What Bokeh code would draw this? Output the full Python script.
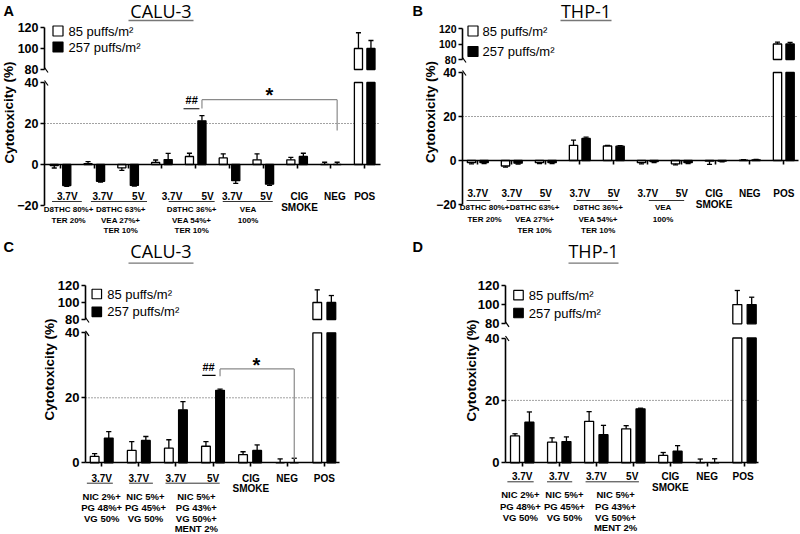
from bokeh.plotting import figure
from bokeh.models import Range1d, LinearAxis, FixedTicker, ColumnDataSource
from bokeh.layouts import row, column
from bokeh.core.properties import value
from bokeh.embed import file_html
from bokeh.resources import INLINE

# ---------------- data (cytotoxicity %, mean and error) ----------------
A_white = [-0.5, 0.4, -1.6, 1.0, 3.9, 3.2, 2.3, 2.3, 0.0, 100]
A_white_err = [1.2, 1.0, 1.3, 1.2, 1.6, 2.0, 2.9, 1.2, 1.1, 15]
A_black = [-10.3, -8.2, -10.2, 2.4, 21.3, -7.9, -9.6, 3.9, 0.0, 100]
A_black_err = [0.3, 0.4, 0.3, 3.0, 2.5, 1.3, 0.6, 1.6, 1.1, 7.6]

B_white = [-1.0, -2.5, -1.0, 6.9, 6.6, -1.0, -1.5, -0.3, 0.2, 100]
B_white_err = [0.5, 0.5, 0.4, 2.4, 0.3, 0.5, 0.5, 1.5, 0.2, 2.5]
B_black = [-1.0, -1.2, -1.0, 10.0, 6.5, -0.5, -1.0, -0.3, 0.3, 100]
B_black_err = [0.4, 0.4, 0.4, 0.6, 0.3, 0.4, 0.4, 0.3, 0.2, 2.2]

C_white = [1.95, 3.8, 4.5, 5.1, 2.5, 0.0, 100]
C_white_err = [0.85, 2.7, 2.6, 1.4, 0.9, 1.2, 14.9]
C_black = [7.6, 6.9, 16.3, 22.3, 3.8, 0.0, 100]
C_black_err = [2.0, 1.2, 2.5, 0.4, 1.7, 1.4, 8.2]

D_white = [8.6, 6.6, 13.3, 10.9, 2.35, 0.0, 100]
D_white_err = [0.7, 1.4, 3.1, 1.0, 0.95, 1.2, 14.7]
D_black = [13.0, 6.8, 9.0, 17.3, 3.7, 0.0, 100]
D_black_err = [3.3, 1.5, 3.0, 0.2, 1.8, 1.3, 7.7]

# ---------------- text ----------------
legend_labels = ["85 puffs/m\u00b2", "257 puffs/m\u00b2"]
ylabel = "Cytotoxicity (%)"
AB_volt = ["3.7V", "3.7V", "5V", "3.7V", "5V", "3.7V", "5V"]
AB_comp = [["D8THC 80%+", "TER 20%"],
           ["D8THC 63%+", "VEA 27%+", "TER 10%"],
           ["D8THC 36%+", "VEA 54%+", "TER 10%"],
           ["VEA", "100%"]]
CD_volt = ["3.7V", "3.7V", "3.7V", "5V"]
CD_comp = [["NIC 2%+", "PG 48%+", "VG 50%"],
           ["NIC 5%+", "PG 45%+", "VG 50%"],
           ["NIC 5%+", "PG 43%+", "VG 50%+", "MENT 2%"]]
ctrl_labels = ["CIG", "NEG", "POS"]
smoke_label = "SMOKE"
top_ticks = [80, 100, 120]

FONT = "Liberation Sans"

# ---------------- layout (page pixel geometry) ----------------
cfgA = dict(L=0, R=400, T=0, B=240, x0p=60, s=33.8, ax=44, xend=380, y0=164, kl=2.05,
            y80=69, kt=1.05, low_ticks=[-20, 0, 20, 40], dodge=0.185, bw=0.24, cap=0.075,
            volt=AB_volt, volt_x=[0.2, 1.25, 2.3, 3.3, 4.35, 5.08, 6.09], volt_py=195.7,
            ul=[(-0.25, 0.63), (0.9, 2.56), (3.2, 4.56), (4.8, 6.28)], ul_py=201,
            comp=AB_comp, comp_x=[0.24, 1.78, 3.88, 5.55], comp_py=[209.3, 220, 230],
            comp_size="8px",
            ctrl_x=[7.07, 8.12, 9.0], ctrl_py=195.7, smoke_py=206.7,
            title="CALU-3", title_px=160.5, title_py=10, title_ul=(128, 193, 20),
            letter="A", letter_px=3, letter_py=10, ylab_px=8.5, ylab_py=112,
            leg_sq_px=57.5, leg_tx_px=68, leg_py=[30.5, 46.5], leg_sq=10,
            tick_top="12.5px", tick_low="12.5px",
            sig=dict(xl=4.185, xr=8.185, yh=31.6, yle=27.3, yre=16.6, star=(6.18, 33.7),
                     hash=(3.88, 31.7), hul=(3.64, 4.11, 27.2)))

cfgB = dict(L=400, R=800, T=0, B=240, x0p=477.3, s=34, ax=462, xend=798, y0=160, kl=2.2,
            y80=59, kt=0.775, low_ticks=[-20, 0, 20, 40], dodge=0.185, bw=0.245, cap=0.075,
            volt=AB_volt, volt_x=[0, 1, 2, 3, 4, 5, 6], volt_py=192.7,
            ul=[(-0.33, 0.37), (0.85, 2.13), (2.9, 4.12), (5.03, 6.07)], ul_py=200,
            comp=AB_comp, comp_x=[0.2, 1.67, 3.54, 5.45], comp_py=[207.3, 219.3, 230],
            comp_size="8px",
            ctrl_x=[6.95, 8.0, 9.0], ctrl_py=192.7, smoke_py=204,
            title="THP-1", title_px=585.5, title_py=10, title_ul=(560, 611, 20),
            letter="B", letter_px=412, letter_py=10, ylab_px=430, ylab_py=111.5,
            leg_sq_px=472.5, leg_tx_px=482, leg_py=[30.5, 51], leg_sq=10,
            tick_top="10.5px", tick_low="12px", sig=None)

cfgC = dict(L=0, R=400, T=240, B=534, x0p=101.2, s=37.1, ax=85, xend=339, y0=462.3, kl=3.25,
            y80=319, kt=0.85, low_ticks=[0, 20, 40], dodge=0.19, bw=0.235, cap=0.07,
            volt=CD_volt, volt_x=[0, 1, 2, 3], volt_py=477.7,
            ul=[(-0.4, 0.3), (0.74, 1.38), (1.72, 3.18)], ul_py=482.7,
            comp=CD_comp, comp_x=[0, 1.18, 2.55], comp_py=[495.7, 506.7, 517.7, 528.3],
            comp_size="9.5px",
            ctrl_x=[4.02, 5.0, 6.0], ctrl_py=477.7, smoke_py=488.3,
            title="CALU-3", title_px=160.5, title_py=250, title_ul=(128, 193, 262.7),
            letter="C", letter_px=3, letter_py=246, ylab_px=49, ylab_py=369,
            leg_sq_px=96.3, leg_tx_px=106.7, leg_py=[293.5, 311.3], leg_sq=9.5,
            tick_top="13px", tick_low="13px",
            sig=dict(xl=3.19, xr=5.19, yh=28.9, yle=26.6, yre=1.2, star=(4.17, 30.2),
                     hash=(2.88, 29.6), hul=(2.71, 3.07, 26.9)))

cfgD = dict(L=400, R=800, T=240, B=534, x0p=521.7, s=37.05, ax=505, xend=758, y0=462.3, kl=3.12,
            y80=323.3, kt=0.96, low_ticks=[0, 20, 40], dodge=0.194, bw=0.243, cap=0.07,
            volt=CD_volt, volt_x=[0, 1, 2, 2.97], volt_py=476.3,
            ul=[(-0.4, 0.31), (0.67, 1.35), (1.71, 3.15)], ul_py=481.3,
            comp=CD_comp, comp_x=[-0.05, 1.14, 2.52], comp_py=[494.3, 506, 516.7, 527.3],
            comp_size="9.5px",
            ctrl_x=[4.0, 4.99, 5.96], ctrl_py=476.3, smoke_py=487.3,
            title="THP-1", title_px=593, title_py=250, title_ul=(568, 618, 262.7),
            letter="D", letter_px=412, letter_py=246, ylab_px=471, ylab_py=370,
            leg_sq_px=518, leg_tx_px=528.3, leg_py=[294.7, 312.5], leg_sq=9.5,
            tick_top="13px", tick_low="13px", sig=None)


def style_axis(a, size):
    a.axis_line_width = 1.6
    a.axis_line_color = "black"
    a.major_tick_line_width = 1.6
    a.major_tick_line_color = "black"
    a.major_tick_out = 4
    a.major_tick_in = 0
    a.minor_tick_line_color = None
    a.major_label_text_font = FONT
    a.major_label_text_font_style = "bold"
    a.major_label_text_font_size = size
    a.major_label_text_color = "black"
    a.major_label_standoff = 2


def txt(p, xs, ys, texts, size, font=FONT, bold=True, align="center", angle=0.0,
        color="black", baseline="middle"):
    p.text(x=xs, y=ys, text=texts, text_font=value(font), text_font_size=size,
           text_font_style="bold" if bold else "normal", text_align=align,
           text_baseline=baseline, angle=angle, text_color=color)


def panel(c, white, werr, black, berr):
    n = len(white)
    px = lambda x: (x - c["x0p"]) / c["s"]
    py = lambda y: (c["y0"] - y) / c["kl"]
    pt = lambda y: 80 + (c["y80"] - y) / c["kt"]
    p = figure(width=c["R"] - c["L"], height=c["B"] - c["T"],
               x_range=Range1d(px(c["L"]), px(c["R"])),
               y_range=Range1d(py(c["B"]), py(c["T"])),
               x_axis_type=None, y_axis_type=None, toolbar_location=None,
               output_backend="svg", min_border=0, outline_line_color=None)
    p.extra_y_ranges = {"top": Range1d(pt(c["B"]), pt(c["T"]))}
    p.background_fill_color = "white"
    p.border_fill_color = "white"

    ax_d = px(c["ax"])
    xe_d = px(c["xend"])
    idx = list(range(n))

    # reference dotted line at 20 %
    p.segment(x0=[ax_d], x1=[xe_d], y0=[20], y1=[20], line_color="#444444",
              line_width=1, line_dash="1 2")

    # bars + error bars
    for vals, errs, sgn, color in ((white, werr, -1, "white"), (black, berr, 1, "black")):
        xs = [i + sgn * c["dodge"] for i in idx]
        src = ColumnDataSource(dict(x=xs, top=[min(v, 40) for v in vals]))
        p.vbar(x="x", top="top", bottom=0, width=c["bw"], source=src,
               fill_color=color, line_color="black", line_width=1.3)
        hx = [x for x, v in zip(xs, vals) if v > 80]
        hv = [v for v in vals if v > 80]
        if hx:
            p.vbar(x=hx, top=hv, bottom=80, width=c["bw"], y_range_name="top",
                   fill_color=color, line_color="black", line_width=1.3)
        lo = dict(x=[], y0=[], y1=[])
        hi = dict(x=[], y0=[], y1=[])
        for x, v, e in zip(xs, vals, errs):
            end = v + e if v >= 0 else v - e
            d = hi if v > 80 else lo
            d["x"].append(x); d["y0"].append(v); d["y1"].append(end)
        for d, rn in ((lo, "default"), (hi, "top")):
            if not d["x"]:
                continue
            p.segment(x0=d["x"], x1=d["x"], y0=d["y0"], y1=d["y1"], line_color="black",
                      line_width=1.3, y_range_name=rn)
            p.segment(x0=[x - c["cap"] for x in d["x"]], x1=[x + c["cap"] for x in d["x"]],
                      y0=d["y1"], y1=d["y1"], line_color="black", line_width=1.3,
                      y_range_name=rn)

    # axes
    yl = LinearAxis(fixed_location=ax_d, bounds=(c["low_ticks"][0], 40),
                    ticker=FixedTicker(ticks=c["low_ticks"]))
    style_axis(yl, c["tick_low"])
    p.add_layout(yl, "left")
    yt = LinearAxis(y_range_name="top", fixed_location=ax_d, bounds=(80, 120),
                    ticker=FixedTicker(ticks=top_ticks))
    style_axis(yt, c["tick_top"])
    p.add_layout(yt, "left")
    xa = LinearAxis(fixed_location=0, bounds=(ax_d, xe_d), ticker=FixedTicker(ticks=idx))
    style_axis(xa, "1px")
    xa.major_label_overrides = {i: "" for i in idx}
    xa.major_label_text_color = None
    xa.major_tick_out = 4
    p.add_layout(xa, "below")

    # axis break marks
    y40p = c["y0"] - 40 * c["kl"]
    p.segment(x0=[ax_d, ax_d], x1=[px(c["ax"] + 3.5)] * 2,
              y0=[py(c["y80"] - 2), py(y40p - 2)], y1=[py(c["y80"] + 3), py(y40p + 3)],
              line_color="black", line_width=1.2)

    # category labels
    txt(p, c["volt_x"], [py(c["volt_py"])] * len(c["volt_x"]), c["volt"], "10px")
    p.segment(x0=[a for a, b in c["ul"]], x1=[b for a, b in c["ul"]],
              y0=[py(c["ul_py"])] * len(c["ul"]), y1=[py(c["ul_py"])] * len(c["ul"]),
              line_color="#333333", line_width=1)
    cx, cy, ct = [], [], []
    for x, lines in zip(c["comp_x"], c["comp"]):
        for k, line in enumerate(lines):
            cx.append(x); cy.append(py(c["comp_py"][k])); ct.append(line)
    txt(p, cx, cy, ct, c["comp_size"])
    txt(p, c["ctrl_x"], [py(c["ctrl_py"])] * 3, ctrl_labels, "10px")
    txt(p, [c["ctrl_x"][0]], [py(c["smoke_py"])], [smoke_label], "10px")

    # legend
    p.scatter(x=[px(c["leg_sq_px"])] * 2, y=[py(v) for v in c["leg_py"]], marker="square",
              size=c["leg_sq"], fill_color=["white", "black"], line_color="black",
              line_width=1.2)
    txt(p, [px(c["leg_tx_px"])] * 2, [py(v) for v in c["leg_py"]], legend_labels, "13px",
        bold=False, align="left")

    # title, letter, y label
    txt(p, [px(c["title_px"])], [py(c["title_py"])], [c["title"]], "18px",
        font="Open Sans", bold=False)
    a, b, yy = c["title_ul"]
    p.segment(x0=[px(a)], x1=[px(b)], y0=[py(yy)], y1=[py(yy)], line_color="#777777",
              line_width=1.3)
    txt(p, [px(c["letter_px"])], [py(c["letter_py"])], [c["letter"]], "14.5px", align="left")
    txt(p, [px(c["ylab_px"])], [py(c["ylab_py"])], [ylabel], "13.5px", angle=1.5708)

    # significance annotations
    sg = c["sig"]
    if sg:
        p.segment(x0=[sg["xl"], sg["xl"], sg["xr"]], x1=[sg["xr"], sg["xl"], sg["xr"]],
                  y0=[sg["yh"], sg["yh"], sg["yh"]], y1=[sg["yh"], sg["yle"], sg["yre"]],
                  line_color="#8a8a8a", line_width=1.2)
        txt(p, [sg["star"][0]], [sg["star"][1]], ["*"], "20px")
        txt(p, [sg["hash"][0]], [sg["hash"][1]], ["##"], "11px")
        h0, h1, hy = sg["hul"]
        p.segment(x0=[h0], x1=[h1], y0=[hy], y1=[hy], line_color="black", line_width=1.2)
    return p


pA = panel(cfgA, A_white, A_white_err, A_black, A_black_err)
pB = panel(cfgB, B_white, B_white_err, B_black, B_black_err)
pC = panel(cfgC, C_white, C_white_err, C_black, C_black_err)
pD = panel(cfgD, D_white, D_white_err, D_black, D_black_err)

layout = column(row(pA, pB), row(pC, pD))
open("out.html", "w").write(file_html(layout, INLINE))
